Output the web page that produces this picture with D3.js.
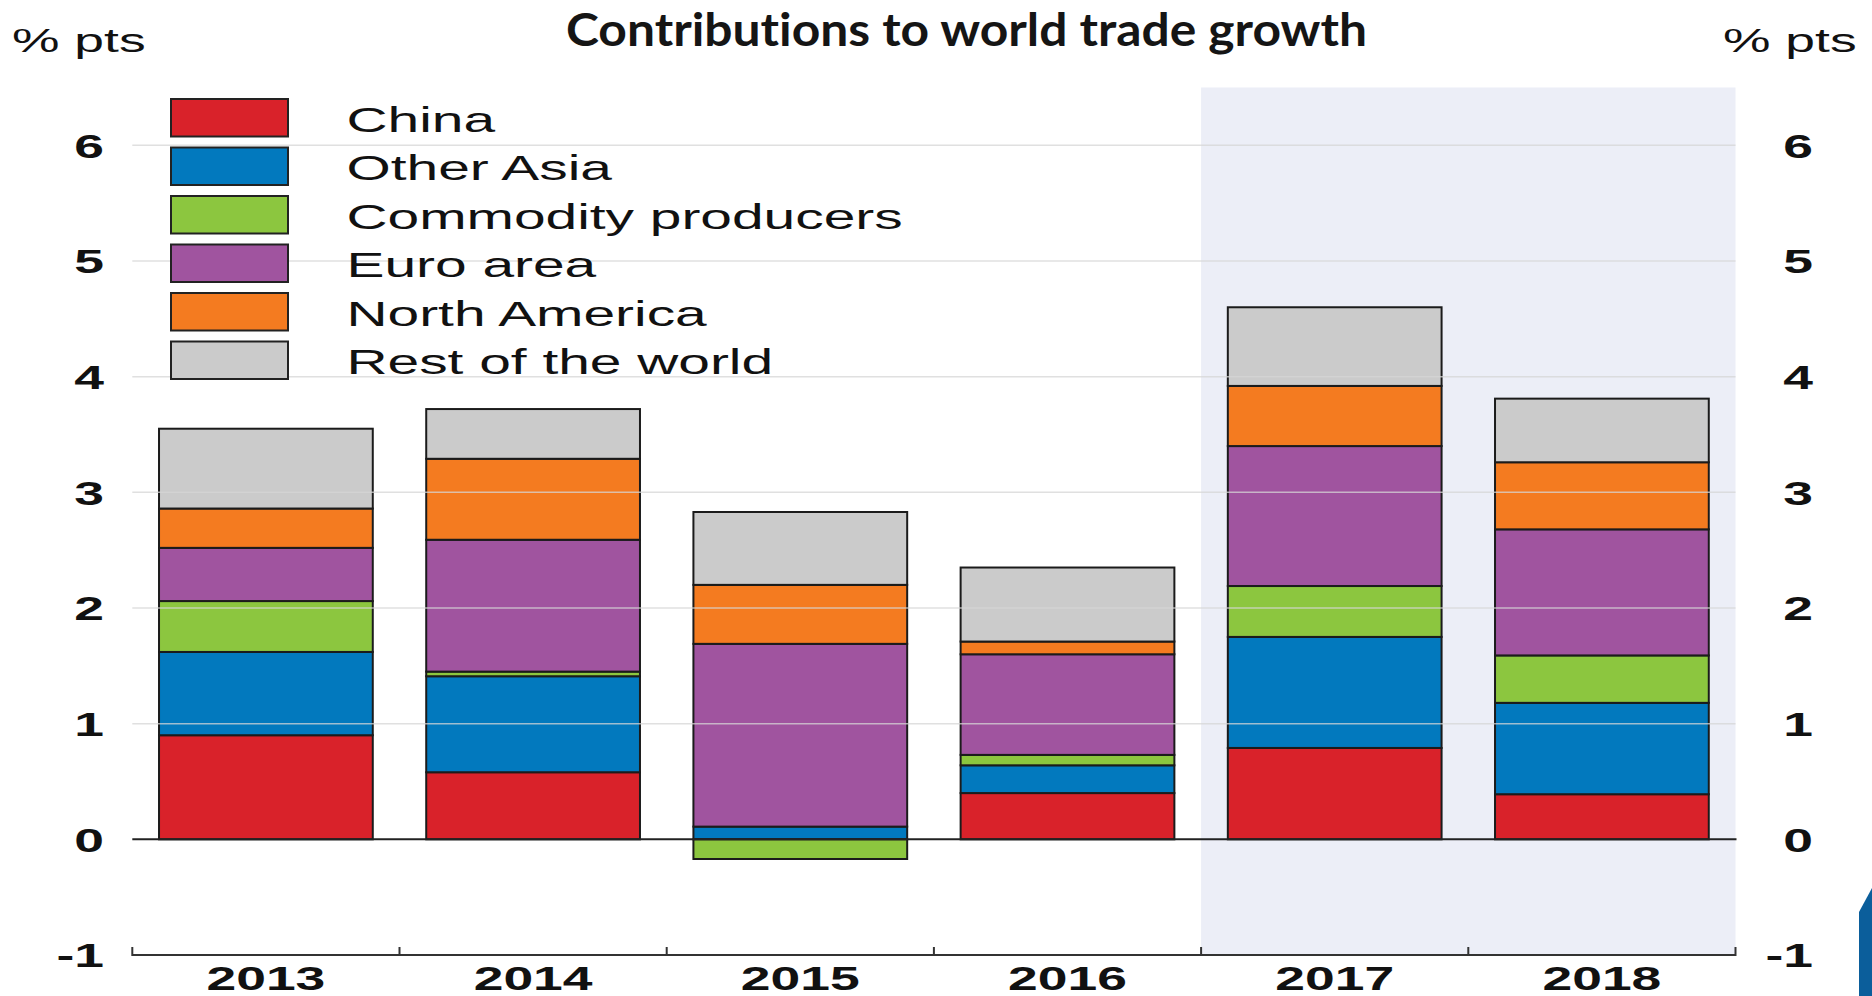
<!DOCTYPE html>
<html>
<head>
<meta charset="utf-8">
<script src="https://cdn.jsdelivr.net/npm/d3@7"></script>
<style>
  html, body { margin: 0; padding: 0; background: #ffffff; }
  svg { display: block; }
</style>
</head>
<body>
<svg id="chart" width="1872" height="996"></svg>
<script>
// ---- data -------------------------------------------------------------
const years = ["2013", "2014", "2015", "2016", "2017", "2018"];
const seriesNames = ["China", "Other Asia", "Commodity producers", "Euro area", "North America", "Rest of the world"];

// contributions in percentage points, one value per year
const china        = [0.90, 0.58,  0.00, 0.40, 0.79, 0.39];
const otherAsia    = [0.72, 0.83,  0.11, 0.24, 0.96, 0.79];
const commodity    = [0.44, 0.04, -0.17, 0.09, 0.44, 0.41];
const euroArea     = [0.46, 1.14,  1.58, 0.87, 1.21, 1.09];
const northAmerica = [0.34, 0.70,  0.51, 0.11, 0.52, 0.58];
const restOfWorld  = [0.69, 0.43,  0.63, 0.64, 0.68, 0.55];

const yTicks = [-1, 0, 1, 2, 3, 4, 5, 6];
const projectionYears = ["2017", "2018"];
const seriesColors = ["#d9222a", "#0279be", "#8cc63f", "#a0549f", "#f47b20", "#cbcbcb"];

// ---- layout -----------------------------------------------------------
const svg = d3.select("#chart");
const plotLeft = 132.3, plotRight = 1735.5;
const plotBottom = 955, plotTop = 87.5;
const SX = 1.62;            // horizontal stretch of the chart lettering
const FONT = "'Liberation Sans', Arial, Helvetica, sans-serif";

const seriesValues = [china, otherAsia, commodity, euroArea, northAmerica, restOfWorld];
const rows = years.map((yr, i) => {
  const r = { year: yr };
  seriesNames.forEach((s, k) => { r[s] = seriesValues[k][i]; });
  return r;
});

const x = d3.scaleBand()
  .domain(years)
  .range([plotLeft, plotRight])
  .paddingInner(0.2)
  .paddingOuter(0.1);

const y = d3.scaleLinear()
  .domain([-1, 6.5])
  .range([plotBottom, plotTop]);

const color = d3.scaleOrdinal().domain(seriesNames).range(seriesColors);

const stacked = d3.stack()
  .keys(seriesNames)
  .offset(d3.stackOffsetDiverging)(rows);

// ---- projection shading ----------------------------------------------
const shadeLeft = x(projectionYears[0]) - x.step() * 0.1;
svg.append("rect")
  .attr("x", shadeLeft)
  .attr("y", y(6.5))
  .attr("width", plotRight - shadeLeft)
  .attr("height", y(-1) - y(6.5))
  .attr("fill", "#eceef7");

// ---- stacked bars ------------------------------------------------------
svg.append("g")
  .selectAll("g")
  .data(stacked)
  .join("g")
    .attr("fill", d => color(d.key))
  .selectAll("rect")
  .data(d => d)
  .join("rect")
    .attr("x", d => x(d.data.year))
    .attr("width", x.bandwidth())
    .attr("y", d => y(Math.max(d[0], d[1])))
    .attr("height", d => Math.abs(y(d[0]) - y(d[1])))
    .attr("stroke", "#1b1b1b")
    .attr("stroke-width", 2);

// ---- horizontal grid -------------------------------------------------
svg.append("g")
  .selectAll("line")
  .data(yTicks.filter(v => v > 0))
  .join("line")
    .attr("x1", plotLeft)
    .attr("x2", plotRight)
    .attr("y1", d => y(d))
    .attr("y2", d => y(d))
    .attr("stroke", "#d6d6d6")
    .attr("stroke-opacity", 0.75)
    .attr("stroke-width", 1.5);

// zero line
svg.append("line")
  .attr("x1", plotLeft).attr("x2", plotRight + 1)
  .attr("y1", y(0)).attr("y2", y(0))
  .attr("stroke", "#222").attr("stroke-width", 2);

// ---- bottom axis: line with ticks on the band edges ---------------------
const edges = years.map((yr) => x(yr) - x.step() * 0.1).concat([plotRight]);
const axisG = svg.append("g");
axisG.append("line")
  .attr("x1", plotLeft).attr("x2", plotRight)
  .attr("y1", y(-1)).attr("y2", y(-1))
  .attr("stroke", "#333").attr("stroke-width", 2);
axisG.selectAll(".edge")
  .data(edges)
  .join("line")
    .attr("class", "edge")
    .attr("x1", d => d).attr("x2", d => d)
    .attr("y1", y(-1) - 8).attr("y2", y(-1) + 1)
    .attr("stroke", "#333").attr("stroke-width", 2);

// year labels
const xLabels = svg.append("g")
  .attr("transform", "translate(0,990)")
  .call(d3.axisBottom(x).tickSize(0).tickPadding(0));
xLabels.select(".domain").remove();
xLabels.selectAll("text")
  .attr("y", 0).attr("dy", 0)
  .attr("transform", `scale(${SX},1)`)
  .attr("fill", "#111")
  .style("font-family", FONT)
  .style("font-weight", "700")
  .style("font-size", "33px");

// ---- value axes (left and right) -------------------------------------
function valueAxis(rightEdge) {
  const g = svg.append("g")
    .attr("transform", `translate(${rightEdge},0)`)
    .call(d3.axisLeft(y).tickValues(yTicks).tickSize(0).tickPadding(0).tickFormat(d => String(d)));
  g.select(".domain").remove();
  g.selectAll("text")
    .attr("x", 0)
    .attr("dy", "0.36em")
    .attr("transform", `scale(${SX},1)`)
    .attr("fill", "#111")
    .style("font-family", FONT)
    .style("font-weight", "700")
    .style("font-size", "33px");
}
valueAxis(104);
valueAxis(1813);

// unit labels
function stretchedText(px, py, str, size, weight, sx, anchor) {
  return svg.append("g")
    .attr("transform", `translate(${px},${py}) scale(${sx},1)`)
    .append("text")
      .attr("text-anchor", anchor || "start")
      .attr("fill", "#111")
      .style("font-family", FONT)
      .style("font-weight", weight)
      .style("font-size", size + "px")
      .text(str);
}
stretchedText(12, 52, "% pts", 33, 400, SX);
stretchedText(1723, 52, "% pts", 33, 400, SX);

// ---- title -------------------------------------------------------------
svg.append("text")
  .attr("x", 566)
  .attr("y", 46)
  .attr("textLength", 801)
  .attr("lengthAdjust", "spacingAndGlyphs")
  .attr("fill", "#151515")
  .style("font-family", "Lato, 'Open Sans', sans-serif")
  .style("font-weight", "700")
  .style("font-size", "46px")
  .style("font-variant-ligatures", "none")
  .text("Contributions to world trade growth");

// ---- legend ------------------------------------------------------------
const legendPitch = 48.5;
const legend = svg.append("g");
legend.selectAll("rect")
  .data(seriesNames)
  .join("rect")
    .attr("x", 171)
    .attr("y", (d, i) => 99 + i * legendPitch)
    .attr("width", 117)
    .attr("height", 37.5)
    .attr("fill", d => color(d))
    .attr("stroke", "#222")
    .attr("stroke-width", 2);
seriesNames.forEach((name, i) => {
  stretchedText(346.5, 131.5 + i * legendPitch, name, 36, 400, 1.58);
});

// ---- corner emblem ----------------------------------------------------
svg.append("path")
  .attr("d", "M1859,912 L1872,888 L1872,996 L1859,996 Z")
  .attr("fill", "#0b5e9b");
</script>
</body>
</html>
